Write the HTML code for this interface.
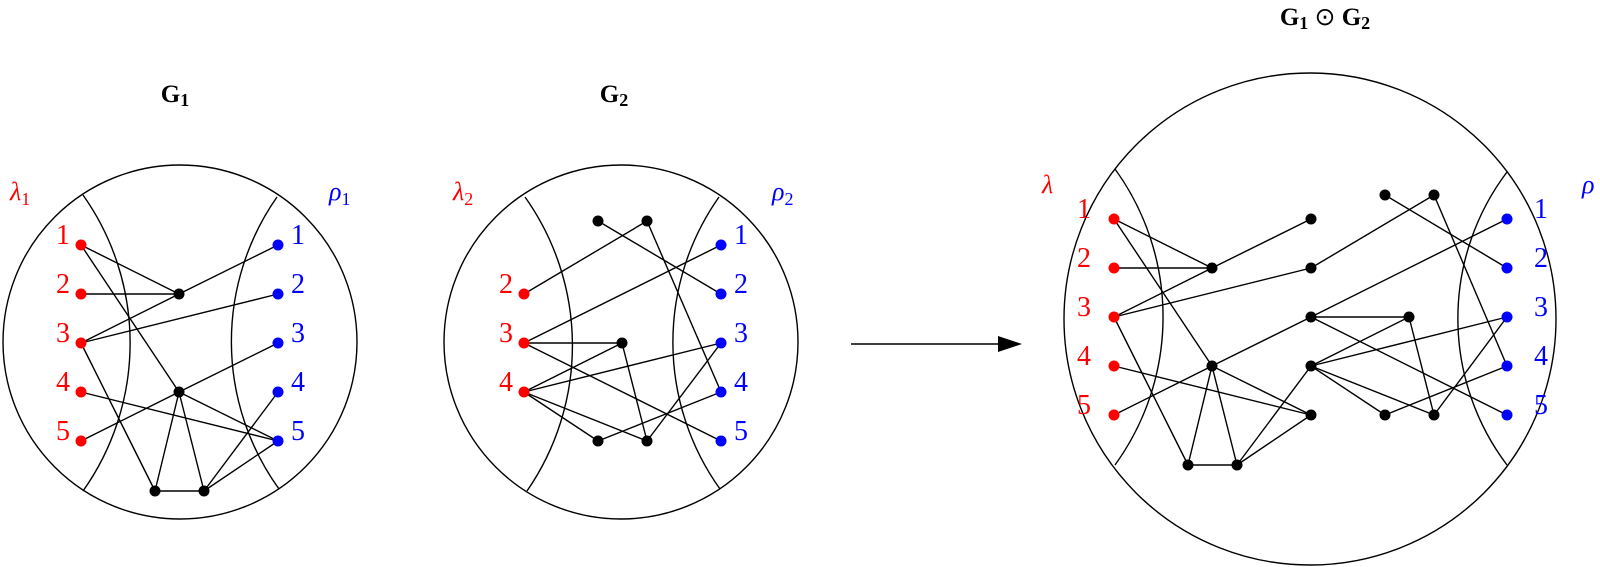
<!DOCTYPE html>
<html><head><meta charset="utf-8"><style>
html,body{margin:0;padding:0;background:#fff;width:1600px;height:567px;overflow:hidden}
svg text{font-family:"Liberation Serif",serif}
</style></head><body>
<svg width="1600" height="567" viewBox="0 0 1600 567" xmlns="http://www.w3.org/2000/svg">
<g fill="none" stroke="#000" stroke-width="1.4">
<circle cx="180" cy="342" r="177"/>
<path d="M83 195 A256 256 0 0 1 83 491"/>
<path d="M277 197 A252 252 0 0 0 279 489"/>
<circle cx="621" cy="342" r="177"/>
<path d="M525 197 A256 256 0 0 1 527 491"/>
<path d="M719 197 A252 252 0 0 0 720 489"/>
<circle cx="1310" cy="319" r="246"/>
<path d="M1115 169 A252 252 0 0 1 1115 465"/>
<path d="M1507 172 A243 243 0 0 0 1507 465"/>
</g>
<g stroke="#000" stroke-width="1.4">
<line x1="81" y1="245" x2="179" y2="294"/>
<line x1="81" y1="245" x2="179" y2="392"/>
<line x1="81" y1="294" x2="179" y2="294"/>
<line x1="81" y1="343" x2="179" y2="294"/>
<line x1="179" y1="294" x2="278" y2="245"/>
<line x1="81" y1="343" x2="278" y2="294"/>
<line x1="81" y1="343" x2="155" y2="491"/>
<line x1="278" y1="343" x2="179" y2="392"/>
<line x1="81" y1="441" x2="179" y2="392"/>
<line x1="81" y1="392" x2="278" y2="441"/>
<line x1="179" y1="392" x2="278" y2="441"/>
<line x1="179" y1="392" x2="155" y2="491"/>
<line x1="179" y1="392" x2="204" y2="491"/>
<line x1="155" y1="491" x2="204" y2="491"/>
<line x1="204" y1="491" x2="278" y2="392"/>
<line x1="204" y1="491" x2="278" y2="441"/>
<line x1="598" y1="221" x2="721" y2="294"/>
<line x1="647" y1="221" x2="524" y2="294"/>
<line x1="647" y1="221" x2="721" y2="392"/>
<line x1="524" y1="343" x2="721" y2="245"/>
<line x1="524" y1="343" x2="622" y2="343"/>
<line x1="524" y1="343" x2="721" y2="441"/>
<line x1="524" y1="392" x2="622" y2="343"/>
<line x1="524" y1="392" x2="721" y2="343"/>
<line x1="524" y1="392" x2="598" y2="441"/>
<line x1="524" y1="392" x2="647" y2="441"/>
<line x1="622" y1="343" x2="647" y2="441"/>
<line x1="598" y1="441" x2="721" y2="392"/>
<line x1="647" y1="441" x2="721" y2="343"/>
<line x1="1114" y1="219" x2="1212" y2="268"/>
<line x1="1114" y1="219" x2="1212" y2="366"/>
<line x1="1114" y1="268" x2="1212" y2="268"/>
<line x1="1114" y1="317" x2="1212" y2="268"/>
<line x1="1212" y1="268" x2="1311" y2="219"/>
<line x1="1114" y1="317" x2="1311" y2="268"/>
<line x1="1311" y1="268" x2="1434" y2="195"/>
<line x1="1385" y1="195" x2="1507" y2="268"/>
<line x1="1434" y1="195" x2="1507" y2="366"/>
<line x1="1114" y1="317" x2="1188" y2="465"/>
<line x1="1507" y1="219" x2="1311" y2="317"/>
<line x1="1311" y1="317" x2="1212" y2="366"/>
<line x1="1311" y1="317" x2="1409" y2="317"/>
<line x1="1311" y1="317" x2="1507" y2="415"/>
<line x1="1114" y1="415" x2="1212" y2="366"/>
<line x1="1114" y1="366" x2="1311" y2="415"/>
<line x1="1212" y1="366" x2="1311" y2="415"/>
<line x1="1212" y1="366" x2="1188" y2="465"/>
<line x1="1212" y1="366" x2="1237" y2="465"/>
<line x1="1188" y1="465" x2="1237" y2="465"/>
<line x1="1237" y1="465" x2="1311" y2="366"/>
<line x1="1237" y1="465" x2="1311" y2="415"/>
<line x1="1311" y1="366" x2="1409" y2="317"/>
<line x1="1311" y1="366" x2="1507" y2="317"/>
<line x1="1311" y1="366" x2="1385" y2="415"/>
<line x1="1311" y1="366" x2="1434" y2="415"/>
<line x1="1409" y1="317" x2="1434" y2="415"/>
<line x1="1385" y1="415" x2="1507" y2="366"/>
<line x1="1434" y1="415" x2="1507" y2="317"/>
<line x1="851" y1="344" x2="1000" y2="344"/>
</g>
<polygon points="1022,344 998,336 998,352" fill="#000"/>
<g fill="#f00">
<circle cx="81" cy="245" r="5.5"/><circle cx="81" cy="294" r="5.5"/><circle cx="81" cy="343" r="5.5"/><circle cx="81" cy="392" r="5.5"/><circle cx="81" cy="441" r="5.5"/>
<circle cx="524" cy="294" r="5.5"/><circle cx="524" cy="343" r="5.5"/><circle cx="524" cy="392" r="5.5"/>
<circle cx="1114" cy="219" r="5.5"/><circle cx="1114" cy="268" r="5.5"/><circle cx="1114" cy="317" r="5.5"/><circle cx="1114" cy="366" r="5.5"/><circle cx="1114" cy="415" r="5.5"/>
</g>
<g fill="#00f">
<circle cx="278" cy="245" r="5.5"/><circle cx="278" cy="294" r="5.5"/><circle cx="278" cy="343" r="5.5"/><circle cx="278" cy="392" r="5.5"/><circle cx="278" cy="441" r="5.5"/>
<circle cx="721" cy="245" r="5.5"/><circle cx="721" cy="294" r="5.5"/><circle cx="721" cy="343" r="5.5"/><circle cx="721" cy="392" r="5.5"/><circle cx="721" cy="441" r="5.5"/>
<circle cx="1507" cy="219" r="5.5"/><circle cx="1507" cy="268" r="5.5"/><circle cx="1507" cy="317" r="5.5"/><circle cx="1507" cy="366" r="5.5"/><circle cx="1507" cy="415" r="5.5"/>
</g>
<g fill="#000">
<circle cx="179" cy="294" r="5.5"/><circle cx="179" cy="392" r="5.5"/><circle cx="155" cy="491" r="5.5"/><circle cx="204" cy="491" r="5.5"/>
<circle cx="598" cy="221" r="5.5"/><circle cx="647" cy="221" r="5.5"/><circle cx="622" cy="343" r="5.5"/><circle cx="598" cy="441" r="5.5"/><circle cx="647" cy="441" r="5.5"/>
<circle cx="1311" cy="219" r="5.5"/><circle cx="1212" cy="268" r="5.5"/><circle cx="1311" cy="268" r="5.5"/><circle cx="1385" cy="195" r="5.5"/><circle cx="1434" cy="195" r="5.5"/><circle cx="1311" cy="317" r="5.5"/><circle cx="1409" cy="317" r="5.5"/><circle cx="1212" cy="366" r="5.5"/><circle cx="1311" cy="366" r="5.5"/><circle cx="1311" cy="415" r="5.5"/><circle cx="1385" cy="415" r="5.5"/><circle cx="1434" cy="415" r="5.5"/><circle cx="1188" cy="465" r="5.5"/><circle cx="1237" cy="465" r="5.5"/>
</g>
<g font-size="28" fill="#f00" text-anchor="middle">
<text x="63" y="244">1</text><text x="63" y="293">2</text><text x="63" y="342">3</text><text x="63" y="391">4</text><text x="63" y="440">5</text>
<text x="506" y="293">2</text><text x="506" y="342">3</text><text x="506" y="391">4</text>
<text x="1084" y="218">1</text><text x="1084" y="267">2</text><text x="1084" y="316">3</text><text x="1084" y="365">4</text><text x="1084" y="414">5</text>
</g>
<g font-size="28" fill="#00f" text-anchor="middle">
<text x="298" y="244">1</text><text x="298" y="293">2</text><text x="298" y="342">3</text><text x="298" y="391">4</text><text x="298" y="440">5</text>
<text x="741" y="244">1</text><text x="741" y="293">2</text><text x="741" y="342">3</text><text x="741" y="391">4</text><text x="741" y="440">5</text>
<text x="1541" y="218">1</text><text x="1541" y="267">2</text><text x="1541" y="316">3</text><text x="1541" y="365">4</text><text x="1541" y="414">5</text>
</g>
<g font-size="26" font-style="italic">
<text x="10" y="200" fill="#f00">λ<tspan font-size="18" font-style="normal" dy="5">1</tspan></text>
<text x="453" y="200" fill="#f00">λ<tspan font-size="18" font-style="normal" dy="5">2</tspan></text>
<text x="1042" y="193" fill="#f00">λ</text>
<text x="329" y="200" fill="#00f">ρ<tspan font-size="18" font-style="normal" dy="5">1</tspan></text>
<text x="772" y="200" fill="#00f">ρ<tspan font-size="18" font-style="normal" dy="5">2</tspan></text>
<text x="1582" y="193" fill="#00f">ρ</text>
</g>
<g font-size="25" font-weight="bold" text-anchor="middle">
<text x="175" y="102">G<tspan font-size="18" dy="4">1</tspan></text>
<text x="614" y="102">G<tspan font-size="18" dy="4">2</tspan></text>
<text x="1325" y="25">G<tspan font-size="18" dy="4">1</tspan><tspan dy="-4" font-weight="normal"> ⊙ </tspan>G<tspan font-size="18" dy="4">2</tspan></text>
</g>
</svg>
</body></html>
